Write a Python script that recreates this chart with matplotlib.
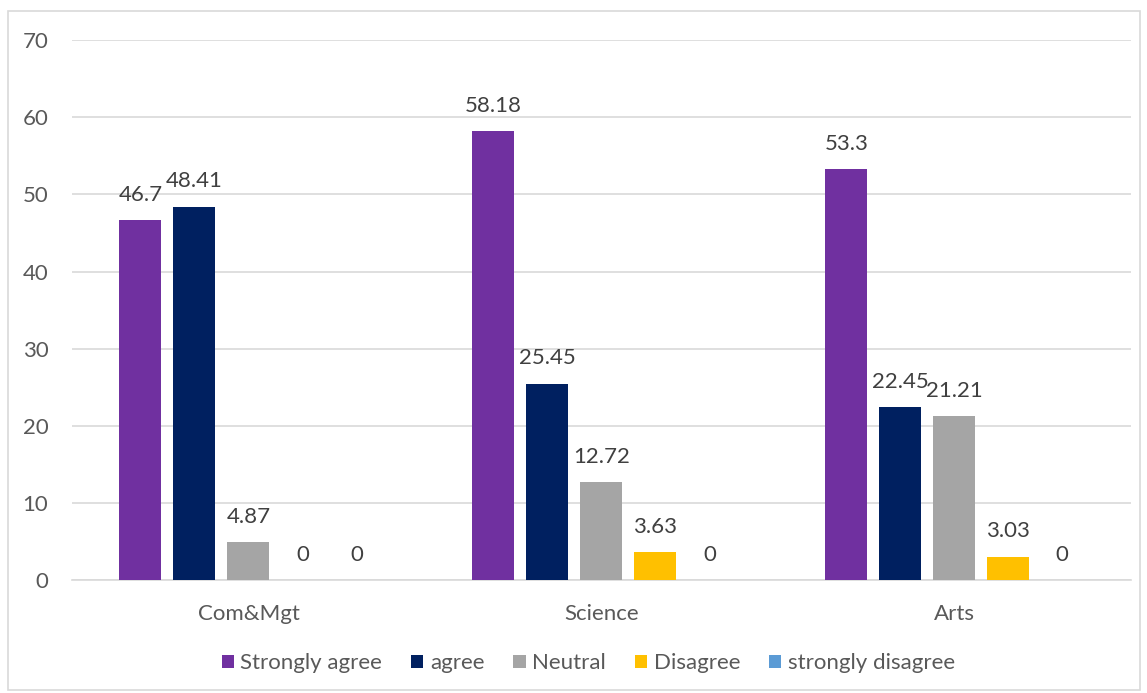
import matplotlib.pyplot as plt
import numpy as np
from matplotlib.patches import Rectangle

plt.rcParams['font.family'] = ['Lato', 'DejaVu Sans']

categories = ['Com&Mgt', 'Science', 'Arts']
series = ['Strongly agree', 'agree', 'Neutral', 'Disagree', 'strongly disagree']
strongly_agree = [46.7, 58.18, 53.3]
agree = [48.41, 25.45, 22.45]
neutral = [4.87, 12.72, 21.21]
disagree = [0, 3.63, 3.03]
strongly_disagree = [0, 0, 0]
values = [strongly_agree, agree, neutral, disagree, strongly_disagree]
colors = ['#7030a0', '#002060', '#a5a5a5', '#ffc000', '#5b9bd5']

fig = plt.figure(figsize=(11.47, 6.93), dpi=100)
ax = fig.add_axes([0.0628, 0.163, 0.923, 0.779])

x = np.arange(len(categories))
pitch = 0.153
width = 0.119
for i, (name, vals, c) in enumerate(zip(series, values, colors)):
    pos = x + (i - 2) * pitch
    ax.bar(pos, vals, width, color=c, label=name, zorder=3)
    for p, v in zip(pos, vals):
        ax.annotate(f'{v:g}', (p, v), xytext=(0, 11), textcoords='offset points',
                    ha='center', va='bottom', fontsize=16, color='#404040')

ax.set_xlim(-0.5, 2.5)
ax.set_ylim(0, 70)
ax.set_yticks(range(0, 71, 10))
ax.set_xticks(x)
ax.set_xticklabels(categories)
ax.grid(axis='y', color='#d9d9d9', linewidth=1.2, zorder=0)
for s in ['top', 'right', 'left']:
    ax.spines[s].set_visible(False)
ax.spines['bottom'].set_color('#d9d9d9')
ax.spines['bottom'].set_linewidth(1.2)
ax.tick_params(axis='both', length=0, labelsize=16, colors='#595959')
ax.tick_params(axis='y', pad=17)
ax.tick_params(axis='x', pad=17)

leg = fig.legend(loc='center', bbox_to_anchor=(0.513, 0.043), ncol=5, frameon=False,
                 fontsize=16, handlelength=0.55, handleheight=0.55, columnspacing=1.3,
                 handletextpad=0.3)
for t in leg.get_texts():
    t.set_color('#595959')

fig.add_artist(Rectangle((0.007, 0.004), 0.987, 0.98, transform=fig.transFigure,
                         fill=False, edgecolor='#d9d9d9', linewidth=1.2))

fig.savefig('out.png', dpi=100)
